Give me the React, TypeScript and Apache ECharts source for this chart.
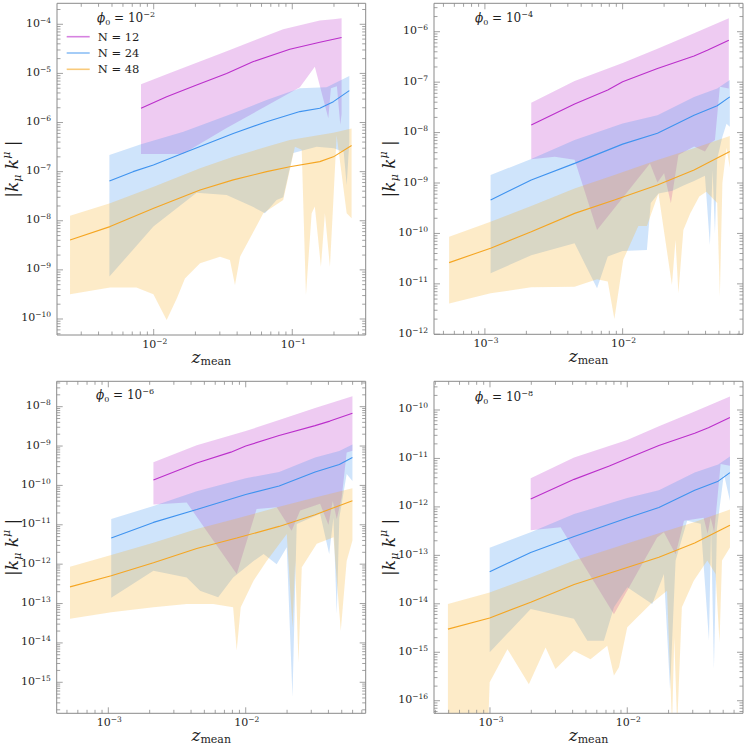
import React, { useEffect, useRef } from 'react';
import * as echarts from 'echarts';

type Pt = [number, number];

// ---------------- Panel 1 : phi0 = 1e-2 ----------------
const p1MagMed: Pt[] = [[8.1e-3, 1.95e-6], [1.24e-2, 3.36e-6], [2.04e-2, 5.8e-6], [3.36e-2, 1.0e-5], [5.24e-2, 1.74e-5], [9.6e-2, 3.1e-5], [0.158, 4.3e-5], [0.227, 5.4e-5]];
const p1MagUp: Pt[] = [[8.1e-3, 6.0e-6], [1.24e-2, 9.6e-6], [2.04e-2, 1.64e-5], [3.36e-2, 2.82e-5], [5.24e-2, 4.6e-5], [8.6e-2, 7.9e-5], [0.158, 1.19e-4], [0.198, 1.26e-4], [0.227, 1.32e-4]];
const p1MagLo: Pt[] = [[8.1e-3, 2.29e-7], [1.62e-2, 2.29e-7], [3.36e-2, 7.7e-7], [6.53e-2, 2.2e-6], [0.1135, 5.2e-6], [0.1455, 1.37e-5], [0.182, 1.22e-6], [0.19, 5.0e-6], [0.21, 5.5e-6], [0.222, 9.0e-7], [0.227, 1.5e-6]];
const p1BluMed: Pt[] = [[4.79e-3, 6.45e-8], [7.1e-3, 1.0e-7], [9.95e-3, 1.37e-7], [1.73e-2, 2.55e-7], [3.75e-2, 6.0e-7], [6.53e-2, 1.04e-6], [0.1135, 1.67e-6], [0.158, 1.95e-6], [0.198, 2.66e-6], [0.258, 4.46e-6]];
const p1BluUp: Pt[] = [[4.79e-3, 2.18e-7], [8.1e-3, 3.6e-7], [1.64e-2, 6.5e-7], [3.75e-2, 1.54e-6], [6.53e-2, 2.88e-6], [0.1135, 5.0e-6], [0.177, 5.2e-6], [0.258, 8.9e-6]];
const p1BluLo: Pt[] = [[4.79e-3, 7.3e-10], [9.95e-3, 7.6e-9], [2.04e-2, 3.7e-8], [3.36e-2, 3.35e-8], [5.24e-2, 1.9e-8], [6.35e-2, 1.42e-8], [7.7e-2, 2.65e-8], [8.6e-2, 3.0e-8], [0.1016, 2.4e-7], [0.15, 3.2e-7], [0.2, 3.0e-7], [0.235, 2.5e-7], [0.247, 5.35e-8], [0.258, 4.0e-7]];
const p1OrgMed: Pt[] = [[2.49e-3, 4.06e-9], [4.84e-3, 7.6e-9], [1.0e-2, 1.79e-8], [2.16e-2, 4.24e-8], [3.75e-2, 6.8e-8], [6.53e-2, 1.0e-7], [9.6e-2, 1.26e-7], [0.158, 1.6e-7], [0.198, 2.0e-7], [0.268, 3.4e-7]];
const p1OrgUp: Pt[] = [[2.49e-3, 1.27e-8], [4.84e-3, 2.26e-8], [1.0e-2, 4.95e-8], [2.16e-2, 1.17e-7], [3.75e-2, 2.0e-7], [6.53e-2, 3.2e-7], [9.6e-2, 4.4e-7], [0.158, 5.6e-7], [0.198, 6.2e-7], [0.268, 7.6e-7]];
const p1OrgLo: Pt[] = [[2.49e-3, 3.18e-10], [4.84e-3, 4.4e-10], [7.5e-3, 4.4e-10], [9.95e-3, 3.2e-10], [1.24e-2, 9.5e-11], [1.47e-2, 2.64e-10], [1.68e-2, 6.7e-10], [2.16e-2, 1.36e-9], [3.01e-2, 1.86e-9], [3.55e-2, 1.59e-9], [3.86e-2, 4.9e-10], [4.2e-2, 1.86e-9], [6.18e-2, 1.42e-8], [8.6e-2, 2.65e-8], [0.1045, 3.2e-7], [0.117, 2.8e-7], [0.1255, 3.08e-10], [0.138, 1.42e-8], [0.1455, 1.94e-8], [0.161, 1.16e-9], [0.172, 1.42e-8], [0.187, 1.16e-9], [0.198, 2.65e-8], [0.209, 5.5e-7], [0.247, 1.42e-8], [0.268, 1.12e-8]];

// ---------------- Panel 2 : phi0 = 1e-4 ----------------
const p2MagMed: Pt[] = [[2.17e-3, 1.41e-8], [4.48e-3, 3.7e-8], [7.8e-3, 7.0e-8], [1.0e-2, 1.02e-7], [1.79e-2, 1.87e-7], [3.3e-2, 3.3e-7], [4.12e-2, 4.3e-7], [5.9e-2, 6.8e-7]];
const p2MagUp: Pt[] = [[2.17e-3, 3.9e-8], [4.48e-3, 1.05e-7], [1.0e-2, 2.4e-7], [1.79e-2, 4.6e-7], [3.3e-2, 9.3e-7], [5.9e-2, 1.84e-6]];
const p2MagLo: Pt[] = [[2.17e-3, 2.95e-9], [3.21e-3, 3.3e-9], [4.48e-3, 2.9e-9], [6.52e-3, 1.17e-10], [1.58e-2, 2.45e-9], [1.79e-2, 1.02e-9], [2.0e-2, 1.56e-9], [2.24e-2, 3.95e-10], [2.54e-2, 3.6e-9], [3.3e-2, 5.3e-9], [3.96e-2, 4.2e-9], [4.3e-2, 6.1e-9], [4.68e-2, 7.1e-9], [5.08e-2, 8.1e-8], [5.9e-2, 7.5e-8]];
const p2BluMed: Pt[] = [[1.1e-3, 4.6e-10], [2.17e-3, 1.15e-9], [4.48e-3, 2.45e-9], [1.0e-2, 5.9e-9], [1.79e-2, 9.7e-9], [3.3e-2, 2.2e-8], [4.86e-2, 3.4e-8], [6.0e-2, 5.1e-8]];
const p2BluUp: Pt[] = [[1.1e-3, 1.44e-9], [2.17e-3, 3.0e-9], [4.48e-3, 7.1e-9], [1.0e-2, 1.52e-8], [1.79e-2, 2.2e-8], [3.3e-2, 5.1e-8], [4.86e-2, 7.5e-8], [6.0e-2, 1.1e-7]];
const p2BluLo: Pt[] = [[1.1e-3, 1.62e-11], [2.17e-3, 3.7e-11], [4.48e-3, 6.4e-11], [6.52e-3, 8.2e-12], [7.8e-3, 3.5e-11], [1.0e-2, 4.5e-11], [1.5e-2, 4.7e-11], [1.6e-2, 4.0e-10], [1.82e-2, 6.2e-10], [2.3e-2, 7.0e-10], [2.79e-2, 9.0e-10], [3.3e-2, 1.1e-9], [3.96e-2, 1.4e-9], [4.3e-2, 5.9e-11], [4.5e-2, 1.8e-9], [4.68e-2, 1.0e-10], [4.86e-2, 3.0e-9], [5.28e-2, 8.0e-9], [5.68e-2, 1.5e-8], [6.0e-2, 1.3e-8]];
const p2OrgMed: Pt[] = [[5.5e-4, 2.64e-11], [1.1e-3, 5.1e-11], [2.17e-3, 1.08e-10], [4.48e-3, 2.5e-10], [8.71e-3, 4.6e-10], [1.79e-2, 9.1e-10], [3.3e-2, 1.81e-9], [6.0e-2, 4.2e-9]];
const p2OrgUp: Pt[] = [[5.5e-4, 8.6e-11], [1.1e-3, 1.71e-10], [2.17e-3, 3.5e-10], [4.48e-3, 7.8e-10], [8.71e-3, 1.44e-9], [1.79e-2, 2.86e-9], [3.3e-2, 4.9e-9], [6.0e-2, 8.55e-9]];
const p2OrgLo: Pt[] = [[5.5e-4, 4.1e-12], [1.1e-3, 6.5e-12], [2.17e-3, 8.55e-12], [4.48e-3, 8.8e-12], [6.52e-3, 1.23e-11], [7.8e-3, 1.11e-11], [8.71e-3, 2.0e-12], [1.01e-2, 3.0e-11], [1.3e-2, 1.4e-10], [1.5e-2, 1.4e-10], [1.82e-2, 6.2e-10], [2.28e-2, 9.5e-12], [2.42e-2, 7.4e-11], [2.54e-2, 6.5e-12], [2.76e-2, 1.17e-10], [3.1e-2, 2.5e-10], [3.6e-2, 5.4e-10], [4.05e-2, 6.7e-10], [4.86e-2, 4.0e-10], [5.08e-2, 5.6e-12], [5.3e-2, 1.0e-9], [5.68e-2, 5.0e-9], [6.0e-2, 2.0e-9]];

// ---------------- Panel 3 : phi0 = 1e-6 ----------------
const p3MagMed: Pt[] = [[2.13e-3, 1.37e-10], [4.4e-3, 3.7e-10], [7.8e-3, 7.0e-10], [1.0e-2, 1.0e-9], [1.75e-2, 1.85e-9], [3.2e-2, 3.3e-9], [4.1e-2, 4.3e-9], [5.98e-2, 6.8e-9]];
const p3MagUp: Pt[] = [[2.13e-3, 3.9e-10], [4.4e-3, 1.05e-9], [1.0e-2, 2.4e-9], [1.75e-2, 4.6e-9], [3.2e-2, 9.3e-9], [5.98e-2, 1.85e-8]];
const p3MagLo: Pt[] = [[2.13e-3, 3.3e-11], [3.72e-3, 3.7e-11], [8.6e-3, 5.6e-13], [1.2e-2, 2.5e-11], [1.68e-2, 2.8e-11], [2.16e-2, 7.1e-12], [2.49e-2, 2.3e-11], [3.48e-2, 3.4e-11], [4.0e-2, 1.0e-11], [4.3e-2, 4.0e-11], [4.6e-2, 1.4e-11], [5.0e-2, 5.0e-11], [5.43e-2, 6.9e-10], [5.98e-2, 7.6e-10]];
const p3BluMed: Pt[] = [[1.05e-3, 4.6e-12], [2.13e-3, 1.15e-11], [4.4e-3, 2.45e-11], [1.0e-2, 5.9e-11], [1.75e-2, 9.7e-11], [3.2e-2, 2.2e-10], [4.8e-2, 3.4e-10], [5.98e-2, 5.1e-10]];
const p3BluUp: Pt[] = [[1.05e-3, 1.4e-11], [2.13e-3, 3.0e-11], [4.4e-3, 7.1e-11], [1.0e-2, 1.52e-10], [1.75e-2, 2.2e-10], [3.2e-2, 5.1e-10], [4.8e-2, 7.5e-10], [5.98e-2, 1.1e-9]];
const p3BluLo: Pt[] = [[1.05e-3, 1.4e-13], [2.13e-3, 6.8e-13], [3.72e-3, 4.6e-13], [4.65e-3, 2.1e-13], [6.3e-3, 1.44e-13], [8.1e-3, 4.6e-13], [1.14e-2, 1.2e-12], [1.35e-2, 1.8e-12], [1.68e-2, 1.0e-12], [1.99e-2, 2.7e-12], [2.19e-2, 4.2e-16], [2.35e-2, 1.05e-11], [3.48e-2, 1.9e-11], [4.05e-2, 1.8e-12], [4.35e-2, 1.5e-11], [4.6e-2, 5.4e-14], [4.8e-2, 1.5e-11], [5.43e-2, 1.95e-10], [5.98e-2, 1.3e-10]];
const p3OrgMed: Pt[] = [[5.26e-4, 2.65e-13], [1.05e-3, 5.1e-13], [2.13e-3, 1.08e-12], [4.4e-3, 2.5e-12], [8.6e-3, 4.6e-12], [1.75e-2, 9.1e-12], [3.2e-2, 1.8e-11], [5.98e-2, 4.1e-11]];
const p3OrgUp: Pt[] = [[5.26e-4, 8.6e-13], [1.05e-3, 1.71e-12], [2.13e-3, 3.5e-12], [4.4e-3, 7.8e-12], [8.6e-3, 1.44e-11], [1.75e-2, 2.86e-11], [3.2e-2, 4.9e-11], [5.98e-2, 8.5e-11]];
const p3OrgLo: Pt[] = [[5.26e-4, 4.1e-14], [1.05e-3, 6.0e-14], [2.13e-3, 8.0e-14], [3.72e-3, 9.7e-14], [5.8e-3, 9.7e-14], [8.1e-3, 8.0e-14], [8.6e-3, 6.4e-15], [9.2e-3, 8.0e-14], [1.14e-2, 3.8e-13], [1.42e-2, 1.2e-12], [1.99e-2, 5.8e-12], [2.19e-2, 2.5e-14], [2.29e-2, 1.2e-12], [2.42e-2, 3.2e-15], [2.56e-2, 8.3e-13], [3.29e-2, 3.3e-12], [4.35e-2, 4.8e-12], [4.92e-2, 2.05e-14], [5.43e-2, 1.2e-12], [5.98e-2, 4.0e-12]];

// ---------------- Panel 4 : phi0 = 1e-8 ----------------
const p4MagMed: Pt[] = [[1.98e-3, 1.45e-12], [4.1e-3, 3.7e-12], [7.4e-3, 7.0e-12], [1.0e-2, 1.0e-11], [1.7e-2, 1.85e-11], [3.1e-2, 3.3e-11], [3.9e-2, 4.3e-11], [5.6e-2, 7.0e-11]];
const p4MagUp: Pt[] = [[1.98e-3, 3.9e-12], [4.1e-3, 1.05e-11], [1.0e-2, 2.4e-11], [1.7e-2, 4.6e-11], [3.1e-2, 9.3e-11], [5.6e-2, 1.9e-10]];
const p4MagLo: Pt[] = [[1.98e-3, 3.3e-13], [3.27e-3, 3.8e-13], [8.0e-3, 6.1e-15], [1.65e-2, 2.35e-13], [1.85e-2, 3.0e-13], [2.25e-2, 1.06e-13], [2.59e-2, 5.2e-13], [3.6e-2, 6.0e-13], [3.85e-2, 2.8e-13], [4.05e-2, 6.0e-13], [4.3e-2, 3.0e-13], [4.79e-2, 7.7e-12], [5.6e-2, 7.1e-12]];
const p4BluMed: Pt[] = [[9.95e-4, 4.6e-14], [1.98e-3, 1.15e-13], [4.1e-3, 2.45e-13], [1.0e-2, 5.9e-13], [1.7e-2, 9.7e-13], [3.1e-2, 2.2e-12], [4.6e-2, 3.4e-12], [5.6e-2, 5.1e-12]];
const p4BluUp: Pt[] = [[9.95e-4, 1.44e-13], [1.98e-3, 3.0e-13], [4.1e-3, 7.1e-13], [1.0e-2, 1.52e-12], [1.7e-2, 2.2e-12], [3.1e-2, 5.1e-12], [4.6e-2, 7.5e-12], [5.6e-2, 1.1e-11]];
const p4BluLo: Pt[] = [[9.95e-4, 1.0e-15], [1.98e-3, 7.8e-15], [4.09e-3, 4.9e-15], [5.12e-3, 1.73e-15], [6.76e-3, 1.73e-15], [8.0e-3, 8.5e-15], [1.0e-2, 2.2e-14], [1.52e-2, 9.9e-15], [1.85e-2, 4.1e-14], [2.05e-2, 1.74e-16], [2.25e-2, 7.8e-14], [2.73e-2, 5.2e-13], [3.43e-2, 4.5e-13], [3.94e-2, 1.73e-15], [4.08e-2, 3.8e-13], [4.28e-2, 4.5e-16], [4.5e-2, 3.5e-13], [5.06e-2, 4.8e-12], [5.6e-2, 1.34e-12]];
const p4OrgMed: Pt[] = [[4.94e-4, 3.0e-15], [9.95e-4, 5.1e-15], [1.98e-3, 1.08e-14], [4.1e-3, 2.5e-14], [8.0e-3, 4.6e-14], [1.7e-2, 9.1e-14], [3.1e-2, 1.8e-13], [5.6e-2, 4.2e-13]];
const p4OrgUp: Pt[] = [[4.94e-4, 9.9e-15], [9.95e-4, 1.71e-14], [1.98e-3, 3.5e-14], [4.1e-3, 7.8e-14], [8.0e-3, 1.44e-13], [1.7e-2, 2.86e-13], [3.1e-2, 4.9e-13], [5.6e-2, 8.8e-13]];
const p4OrgLo: Pt[] = [[4.94e-4, 1e-40], [9.95e-4, 2.4e-16], [1.34e-3, 1.16e-15], [1.92e-3, 2.2e-16], [2.54e-3, 1.26e-15], [3.0e-3, 4.5e-16], [4.09e-3, 1.08e-15], [5.4e-3, 7.2e-16], [7.15e-3, 1.36e-15], [8.0e-3, 3.3e-16], [8.7e-3, 4.9e-16], [1.0e-2, 3.3e-15], [1.48e-2, 9.9e-15], [1.95e-2, 1.87e-14], [2.12e-2, 3.0e-17], [2.2e-2, 2.0e-15], [2.31e-2, 3.0e-17], [2.5e-2, 8.5e-15], [3.05e-2, 3.0e-14], [3.83e-2, 7.8e-14], [4.4e-2, 4.1e-14], [4.7e-2, 1.6e-15], [4.9e-2, 7.8e-14], [5.6e-2, 1.46e-13]];

// ---------------- tick label exponents ----------------
const p1XTicks = [-2, -1];
const p1YTicks = [-10, -9, -8, -7, -6, -5, -4];
const p2XTicks = [-3, -2];
const p2YTicks = [-12, -11, -10, -9, -8, -7, -6];
const p3XTicks = [-3, -2];
const p3YTicks = [-15, -14, -13, -12, -11, -10, -9, -8];
const p4XTicks = [-3, -2];
const p4YTicks = [-16, -15, -14, -13, -12, -11, -10];
const phiExps = [-2, -4, -6, -8];
const seriesNames = ['N = 12', 'N = 24', 'N = 48'];

const LINE_COLORS = ['#bb2fcb', '#3f93ef', '#f5a623'];
const FILL_COLORS = ['rgba(187,47,203,0.25)', 'rgba(63,147,239,0.25)', 'rgba(247,175,35,0.25)'];
const FRAME = '#8a8a8a';
const INK = '#1e1e1e';
const SERIF = '"DejaVu Serif", "Liberation Serif", serif';

const PANELS = [
  { xMin: 2.005e-3, xMax: 0.3388, yMin: 4.72e-11, yMax: 2.676e-4, xT: p1XTicks, yT: p1YTicks, box: [57, 3.3, 308.7, 331.7], phiPos: [97, 10],
    up: [p1MagUp, p1BluUp, p1OrgUp], lo: [p1MagLo, p1BluLo, p1OrgLo], med: [p1MagMed, p1BluMed, p1OrgMed] },
  { xMin: 4.27e-4, xMax: 7.48e-2, yMin: 1e-12, yMax: 3.66e-6, xT: p2XTicks, yT: p2YTicks, box: [434, 3.3, 309, 331], phiPos: [475, 10],
    up: [p2MagUp, p2BluUp, p2OrgUp], lo: [p2MagLo, p2BluLo, p2OrgLo], med: [p2MagMed, p2BluMed, p2OrgMed] },
  { xMin: 4.21e-4, xMax: 7.47e-2, yMin: 1.63e-16, yMax: 4.41e-8, xT: p3XTicks, yT: p3YTicks, box: [56.7, 381.3, 309, 332], phiPos: [96, 387],
    up: [p3MagUp, p3BluUp, p3OrgUp], lo: [p3MagLo, p3BluLo, p3OrgLo], med: [p3MagMed, p3BluMed, p3OrgMed] },
  { xMin: 3.91e-4, xMax: 6.97e-2, yMin: 5.5e-17, yMax: 3.91e-10, xT: p4XTicks, yT: p4YTicks, box: [434, 381.3, 309, 332], phiPos: [475, 389],
    up: [p4MagUp, p4BluUp, p4OrgUp], lo: [p4MagLo, p4BluLo, p4OrgLo], med: [p4MagMed, p4BluMed, p4OrgMed] },
];

const powLabel = (e: number) => `{b|10}{p|−${Math.abs(e)}}`;
const tickRich = {
  b: { fontFamily: SERIF, fontSize: 11, fill: INK, color: INK, lineHeight: 14, verticalAlign: 'middle' },
  p: { fontFamily: SERIF, fontSize: 7.5, fill: INK, color: INK, lineHeight: 9, verticalAlign: 'top' },
};

function minorTicks(min: number, max: number): number[] {
  const out: number[] = [];
  for (let d = Math.floor(Math.log10(min)); d <= Math.ceil(Math.log10(max)); d++) {
    for (let k = 2; k <= 9; k++) {
      const v = k * Math.pow(10, d);
      if (v > min * 1.001 && v < max / 1.001) out.push(v);
    }
  }
  return out;
}

function frameSeries(p: any, i: number) {
  return {
    type: 'custom', xAxisIndex: i, yAxisIndex: i, clip: false, silent: true, z: 10,
    data: [[p.xMin, p.yMin]],
    renderItem: (_params: any, api: any) => {
      const c = (x: number, y: number) => api.coord([x, y]);
      const [L, B] = c(p.xMin, p.yMin);
      const [R, T] = c(p.xMax, p.yMax);
      const kids: any[] = [
        { type: 'rect', shape: { x: L, y: T, width: R - L, height: B - T }, style: { fill: 'none', stroke: FRAME, lineWidth: 1 } },
      ];
      const tick = (x1: number, y1: number, x2: number, y2: number) =>
        kids.push({ type: 'line', shape: { x1, y1, x2, y2 }, style: { stroke: FRAME, lineWidth: 0.8 } });
      p.xT.forEach((e: number) => {
        const x = c(Math.pow(10, e), p.yMin)[0];
        tick(x, B, x, B - 6);
        tick(x, T, x, T + 6);
        kids.push({ type: 'text', x: x + 1, y: B + 2, style: { text: powLabel(e), rich: tickRich, fill: INK, textAlign: 'center', textVerticalAlign: 'top', align: 'center', verticalAlign: 'top' } });
      });
      minorTicks(p.xMin, p.xMax).forEach((v) => {
        const x = c(v, p.yMin)[0];
        tick(x, B, x, B - 3.5);
        tick(x, T, x, T + 3.5);
      });
      p.yT.forEach((e: number) => {
        const y = c(p.xMin, Math.pow(10, e))[1];
        tick(L, y, L + 6, y);
        tick(R, y, R - 6, y);
        kids.push({ type: 'text', x: L - 6, y: y - 1, style: { text: powLabel(e), rich: tickRich, fill: INK, textAlign: 'right', textVerticalAlign: 'middle', align: 'right', verticalAlign: 'middle' } });
      });
      minorTicks(p.yMin, p.yMax).forEach((v) => {
        const y = c(p.xMin, v)[1];
        tick(L, y, L + 3.5, y);
        tick(R, y, R - 3.5, y);
      });
      return { type: 'group', children: kids };
    },
  };
}

function bandSeries(p: any, i: number, k: number) {
  const up: Pt[] = p.up[k];
  const lo: Pt[] = p.lo[k];
  return {
    type: 'custom', name: seriesNames[k] + ' band', xAxisIndex: i, yAxisIndex: i, clip: true, silent: true, z: 2,
    data: [[up[0][0], up[0][1]]],
    renderItem: (_params: any, api: any) => {
      const pts = up.map((q) => api.coord(q)).concat(lo.slice().reverse().map((q) => api.coord(q)));
      return { type: 'polygon', shape: { points: pts }, style: { fill: FILL_COLORS[k], stroke: 'none' } };
    },
  };
}

function lineSeries(p: any, i: number, k: number) {
  return {
    type: 'line', name: seriesNames[k], xAxisIndex: i, yAxisIndex: i, z: 3,
    data: p.med[k], showSymbol: false, symbol: 'none', clip: true,
    color: LINE_COLORS[k],
    itemStyle: { color: LINE_COLORS[k] },
    lineStyle: { color: LINE_COLORS[k], width: 1.1 },
  };
}

const xNameRich = {
  z: { fontFamily: SERIF, fontStyle: 'italic', fontSize: 17, color: INK, lineHeight: 20, verticalAlign: 'middle' },
  s: { fontFamily: SERIF, fontSize: 11, color: INK, lineHeight: 12, verticalAlign: 'bottom' },
};
const yNameRich = {
  b: { fontFamily: SERIF, fontSize: 17, color: INK, lineHeight: 22, verticalAlign: 'middle' },
  k: { fontFamily: SERIF, fontStyle: 'italic', fontSize: 17, color: INK, lineHeight: 22, verticalAlign: 'middle' },
  s: { fontFamily: SERIF, fontStyle: 'italic', fontSize: 11, color: INK, lineHeight: 13, verticalAlign: 'bottom' },
  p: { fontFamily: SERIF, fontStyle: 'italic', fontSize: 11, color: INK, lineHeight: 13, verticalAlign: 'top' },
};
const phiRich = {
  i: { fontFamily: SERIF, fontStyle: 'italic', fontWeight: 'normal', fontSize: 12, color: INK, lineHeight: 16, verticalAlign: 'middle' },
  s: { fontFamily: SERIF, fontWeight: 'normal', fontSize: 8, color: INK, lineHeight: 10, verticalAlign: 'bottom' },
  t: { fontFamily: SERIF, fontWeight: 'normal', fontSize: 12, color: INK, lineHeight: 16, verticalAlign: 'middle' },
  p: { fontFamily: SERIF, fontWeight: 'normal', fontSize: 8, color: INK, lineHeight: 10, verticalAlign: 'top' },
};

export default function App() {
  const ref = useRef<HTMLDivElement>(null);
  useEffect(() => {
    if (!ref.current) return;
    const chart = echarts.init(ref.current, undefined, { renderer: 'svg' });
    const series: any[] = [];
    PANELS.forEach((p, i) => { for (let k = 0; k < 3; k++) series.push(bandSeries(p, i, k)); });
    PANELS.forEach((p, i) => { for (let k = 0; k < 3; k++) series.push(lineSeries(p, i, k)); });
    PANELS.forEach((p, i) => series.push(frameSeries(p, i)));
    const option: any = {
      animation: false,
      backgroundColor: '#ffffff',
      grid: PANELS.map((p) => ({ left: p.box[0], top: p.box[1], width: p.box[2], height: p.box[3], show: false, containLabel: false, outerBoundsMode: 'none' })),
      xAxis: PANELS.map((p, i) => ({
        type: 'log', logBase: 10, gridIndex: i, min: p.xMin, max: p.xMax,
        axisLine: { show: false }, axisTick: { show: false }, axisLabel: { show: false }, splitLine: { show: false },
        name: '{z|z}{s|mean}', nameLocation: 'middle', nameGap: 12, nameTextStyle: { color: INK, rich: xNameRich },
      })),
      yAxis: PANELS.map((p, i) => ({
        type: 'log', logBase: 10, gridIndex: i, min: p.yMin, max: p.yMax,
        axisLine: { show: false }, axisTick: { show: false }, axisLabel: { show: false }, splitLine: { show: false },
        name: '{b||}{k|k}{s|μ}{k| k}{p|μ}{b| |}', nameLocation: 'middle', nameRotate: 90, nameGap: 34,
        nameTextStyle: { color: INK, rich: yNameRich },
      })),
      title: PANELS.map((p, i) => ({
        text: `{i|ϕ}{s|0}{t| = 10}{p|−${Math.abs(phiExps[i])}}`,
        left: p.phiPos[0], top: p.phiPos[1], padding: 0,
        textStyle: { color: INK, fontWeight: 'normal', fontFamily: SERIF, rich: phiRich },
      })),
      legend: {
        data: seriesNames, orient: 'vertical', left: 66.7, top: 28.7, padding: 0,
        itemWidth: 23, itemHeight: 1.6, itemGap: 0.3, icon: 'rect', selectedMode: false,
        itemStyle: { opacity: 0.6 },
        textStyle: { fontFamily: SERIF, fontSize: 11.5, color: INK, lineHeight: 16, padding: [0, 0, 0, 3] },
      },
      series,
    };
    chart.setOption(option);
    return () => chart.dispose();
  }, []);
  return <div ref={ref} style={{ position: 'fixed', left: 0, top: 0, width: 747, height: 747, background: '#fff' }} />;
}
